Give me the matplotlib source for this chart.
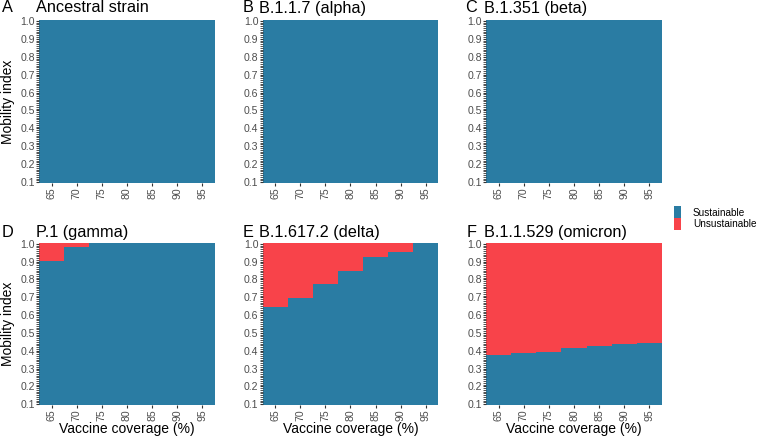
import numpy as np
import matplotlib
matplotlib.use("Agg")
import matplotlib.pyplot as plt
from matplotlib.colors import ListedColormap
from matplotlib.patches import Patch

plt.rcParams["font.family"] = ["Liberation Sans", "DejaVu Sans"]

# ---- data (max sustainable mobility index per vaccine coverage column)
coverage = [65, 70, 75, 80, 85, 90, 95]
mobility = np.round(np.arange(0.10, 1.001, 0.01), 2)

tags = ["A", "B", "C", "D", "E", "F"]
variants = ["Ancestral strain", "B.1.1.7 (alpha)", "B.1.351 (beta)",
            "P.1 (gamma)", "B.1.617.2 (delta)", "B.1.1.529 (omicron)"]
thr_ancestral = [1.00, 1.00, 1.00, 1.00, 1.00, 1.00, 1.00]
thr_alpha = [1.00, 1.00, 1.00, 1.00, 1.00, 1.00, 1.00]
thr_beta = [1.00, 1.00, 1.00, 1.00, 1.00, 1.00, 1.00]
thr_gamma = [0.90, 0.98, 1.00, 1.00, 1.00, 1.00, 1.00]
thr_delta = [0.64, 0.69, 0.77, 0.84, 0.92, 0.95, 1.00]
thr_omicron = [0.37, 0.38, 0.39, 0.41, 0.42, 0.43, 0.44]
thresholds = [thr_ancestral, thr_alpha, thr_beta, thr_gamma, thr_delta, thr_omicron]

legend_labels = ["Sustainable", "Unsustainable"]

BLUE = "#2a7ca3"
RED = "#f8434a"
TICK_TXT = "#4d4d4d"
W, H = 765, 438

# ---- layout in pixels
col_left = [39, 262.5, 486]
row_top = [20, 243]
row_bot = [183, 405]
panel_w = 176
tag_x = [[2, 243, 465], [2, 243, 467]]
title_x = [36, 259, 484]
title_base = [12.5, 237.0]

fig = plt.figure(figsize=(W / 100, H / 100), dpi=100)
cmap = ListedColormap([RED, BLUE])

x_edges = np.append(np.array(coverage) - 2.5, coverage[-1] + 2.5)
y_edges = np.append(mobility - 0.005, mobility[-1] + 0.005)

for k, (thr, name) in enumerate(zip(thresholds, variants)):
    r, c = divmod(k, 3)
    left = col_left[c] / W
    bottom = 1 - row_bot[r] / H
    height = (row_bot[r] - row_top[r]) / H
    ax = fig.add_axes([left, bottom, panel_w / W, height])

    z = (mobility[:, None] <= np.array(thr)[None, :] + 1e-9).astype(int)
    ax.pcolormesh(x_edges, y_edges, z, cmap=cmap, vmin=0, vmax=1, shading="flat")
    ax.set_xlim(x_edges[0], x_edges[-1])
    ax.set_ylim(y_edges[0], y_edges[-1])

    for s in ax.spines.values():
        s.set_visible(False)

    ax.set_xticks(coverage)
    ax.set_xticklabels([str(v) for v in coverage], rotation=90)
    ax.set_yticks(np.round(np.arange(0.1, 1.01, 0.1), 1))
    ax.set_yticklabels([f"{v:.1f}" for v in np.arange(0.1, 1.01, 0.1)])
    ax.set_yticks(mobility, minor=True)
    ax.tick_params(axis="both", which="major", length=2.0, width=0.8,
                   color="#333333", labelsize=7.6, labelcolor=TICK_TXT, pad=0.8)
    ax.tick_params(axis="y", which="minor", length=2.0, width=0.6, color="#333333")

    fig.text(tag_x[r][c] / W, 1 - title_base[r] / H, tags[k],
             fontsize=11.7, va="baseline", ha="left")
    fig.text(title_x[c] / W, 1 - title_base[r] / H, name,
             fontsize=11.7, va="baseline", ha="left")

    if c == 0:
        yc = 1 - (row_top[r] + row_bot[r]) / 2 / H
        fig.text(12.5 / W, yc, "Mobility index", rotation=90, rotation_mode="anchor",
                 ha="center", va="baseline", fontsize=10)
    if r == 1:
        fig.text((col_left[c] + panel_w / 2) / W, 1 - 432.5 / H, "Vaccine coverage (%)",
                 ha="center", va="baseline", fontsize=10)

handles = [Patch(facecolor=BLUE, label=legend_labels[0]),
           Patch(facecolor=RED, label=legend_labels[1])]
fig.legend(handles=handles, loc="center left", bbox_to_anchor=(674 / W, 1 - 218 / H),
           frameon=False, fontsize=7.2, handlelength=0.7, handleheight=1.4,
           labelspacing=0.0, handletextpad=1.2, borderpad=0, borderaxespad=0)

fig.savefig("out.png", dpi=100)
